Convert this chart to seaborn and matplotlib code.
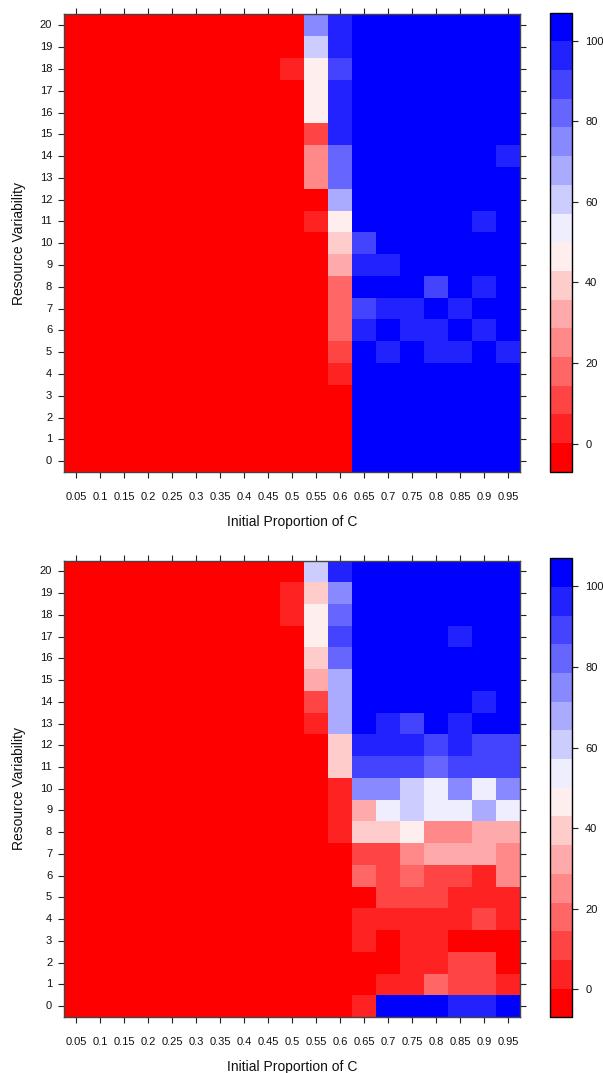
import numpy as np
import pandas as pd
import matplotlib
matplotlib.use("Agg")
import matplotlib.pyplot as plt
from matplotlib.colors import LinearSegmentedColormap, ListedColormap, BoundaryNorm
import seaborn as sns

# ---------------- data ----------------
x_labels = ["0.05", "0.1", "0.15", "0.2", "0.25", "0.3", "0.35", "0.4", "0.45", "0.5",
            "0.55", "0.6", "0.65", "0.7", "0.75", "0.8", "0.85", "0.9", "0.95"]
y_labels = [str(v) for v in range(20, -1, -1)]  # top row first

# Percentages, rows from Resource Variability 20 (top) down to 0
top_values = [
    [0, 0, 0, 0, 0, 0, 0, 0, 0, 0, 75, 96, 100, 100, 100, 100, 100, 100, 100],
    [0, 0, 0, 0, 0, 0, 0, 0, 0, 0, 61, 96, 100, 100, 100, 100, 100, 100, 100],
    [0, 0, 0, 0, 0, 0, 0, 0, 0, 4, 46, 89, 100, 100, 100, 100, 100, 100, 100],
    [0, 0, 0, 0, 0, 0, 0, 0, 0, 0, 46, 96, 100, 100, 100, 100, 100, 100, 100],
    [0, 0, 0, 0, 0, 0, 0, 0, 0, 0, 46, 96, 100, 100, 100, 100, 100, 100, 100],
    [0, 0, 0, 0, 0, 0, 0, 0, 0, 0, 11, 96, 100, 100, 100, 100, 100, 100, 100],
    [0, 0, 0, 0, 0, 0, 0, 0, 0, 0, 25, 82, 100, 100, 100, 100, 100, 100, 96],
    [0, 0, 0, 0, 0, 0, 0, 0, 0, 0, 25, 82, 100, 100, 100, 100, 100, 100, 100],
    [0, 0, 0, 0, 0, 0, 0, 0, 0, 0, 0, 68, 100, 100, 100, 100, 100, 100, 100],
    [0, 0, 0, 0, 0, 0, 0, 0, 0, 0, 4, 46, 100, 100, 100, 100, 100, 96, 100],
    [0, 0, 0, 0, 0, 0, 0, 0, 0, 0, 0, 39, 89, 100, 100, 100, 100, 100, 100],
    [0, 0, 0, 0, 0, 0, 0, 0, 0, 0, 0, 32, 96, 96, 100, 100, 100, 100, 100],
    [0, 0, 0, 0, 0, 0, 0, 0, 0, 0, 0, 18, 100, 100, 100, 89, 100, 96, 100],
    [0, 0, 0, 0, 0, 0, 0, 0, 0, 0, 0, 18, 89, 96, 96, 100, 96, 100, 100],
    [0, 0, 0, 0, 0, 0, 0, 0, 0, 0, 0, 18, 96, 100, 96, 96, 100, 96, 100],
    [0, 0, 0, 0, 0, 0, 0, 0, 0, 0, 0, 11, 100, 96, 100, 96, 96, 100, 96],
    [0, 0, 0, 0, 0, 0, 0, 0, 0, 0, 0, 4, 100, 100, 100, 100, 100, 100, 100],
    [0, 0, 0, 0, 0, 0, 0, 0, 0, 0, 0, 0, 100, 100, 100, 100, 100, 100, 100],
    [0, 0, 0, 0, 0, 0, 0, 0, 0, 0, 0, 0, 100, 100, 100, 100, 100, 100, 100],
    [0, 0, 0, 0, 0, 0, 0, 0, 0, 0, 0, 0, 100, 100, 100, 100, 100, 100, 100],
    [0, 0, 0, 0, 0, 0, 0, 0, 0, 0, 0, 0, 100, 100, 100, 100, 100, 100, 100],
]

bottom_values = [
    [0, 0, 0, 0, 0, 0, 0, 0, 0, 0, 61, 96, 100, 100, 100, 100, 100, 100, 100],
    [0, 0, 0, 0, 0, 0, 0, 0, 0, 4, 39, 75, 100, 100, 100, 100, 100, 100, 100],
    [0, 0, 0, 0, 0, 0, 0, 0, 0, 4, 46, 82, 100, 100, 100, 100, 100, 100, 100],
    [0, 0, 0, 0, 0, 0, 0, 0, 0, 0, 46, 89, 100, 100, 100, 100, 96, 100, 100],
    [0, 0, 0, 0, 0, 0, 0, 0, 0, 0, 39, 82, 100, 100, 100, 100, 100, 100, 100],
    [0, 0, 0, 0, 0, 0, 0, 0, 0, 0, 32, 68, 100, 100, 100, 100, 100, 100, 100],
    [0, 0, 0, 0, 0, 0, 0, 0, 0, 0, 11, 68, 100, 100, 100, 100, 100, 96, 100],
    [0, 0, 0, 0, 0, 0, 0, 0, 0, 0, 4, 68, 100, 96, 89, 100, 96, 100, 100],
    [0, 0, 0, 0, 0, 0, 0, 0, 0, 0, 0, 39, 96, 96, 96, 89, 96, 89, 89],
    [0, 0, 0, 0, 0, 0, 0, 0, 0, 0, 0, 39, 89, 89, 89, 82, 89, 89, 89],
    [0, 0, 0, 0, 0, 0, 0, 0, 0, 0, 0, 4, 75, 75, 61, 54, 75, 54, 75],
    [0, 0, 0, 0, 0, 0, 0, 0, 0, 0, 0, 4, 32, 54, 61, 54, 54, 68, 54],
    [0, 0, 0, 0, 0, 0, 0, 0, 0, 0, 0, 4, 39, 39, 46, 25, 25, 32, 32],
    [0, 0, 0, 0, 0, 0, 0, 0, 0, 0, 0, 0, 11, 11, 25, 32, 32, 32, 25],
    [0, 0, 0, 0, 0, 0, 0, 0, 0, 0, 0, 0, 18, 11, 18, 11, 11, 4, 25],
    [0, 0, 0, 0, 0, 0, 0, 0, 0, 0, 0, 0, 0, 11, 11, 11, 4, 4, 4],
    [0, 0, 0, 0, 0, 0, 0, 0, 0, 0, 0, 0, 4, 4, 4, 4, 4, 11, 4],
    [0, 0, 0, 0, 0, 0, 0, 0, 0, 0, 0, 0, 4, 0, 4, 4, 0, 0, 0],
    [0, 0, 0, 0, 0, 0, 0, 0, 0, 0, 0, 0, 0, 0, 4, 4, 11, 11, 0],
    [0, 0, 0, 0, 0, 0, 0, 0, 0, 0, 0, 0, 0, 4, 4, 18, 11, 11, 4],
    [0, 0, 0, 0, 0, 0, 0, 0, 0, 0, 0, 0, 4, 100, 100, 100, 96, 96, 100],
]

cbar_ticks = [0, 20, 40, 60, 80, 100]
x_title = "Initial Proportion of C"
y_title = "Resource Variability"

# ---------------- style ----------------
sns.set_theme(style="white")
plt.rcParams["font.family"] = ["Liberation Sans", "DejaVu Sans"]

# 16 discrete levels from -7 to 107 (red -> white -> blue)
n_levels = 16
bounds = np.linspace(-7, 107, n_levels + 1)
base = LinearSegmentedColormap.from_list("rwb", ["#ff0000", "#ffffff", "#0000ff"])
cmap = ListedColormap([base(i / (n_levels - 1)) for i in range(n_levels)])
norm = BoundaryNorm(bounds, cmap.N)

W, H = 603, 1073
fig = plt.figure(figsize=(W / 100, H / 100), dpi=100)


def fx(px):
    return px / W


def fy(py):
    return 1 - py / H


panels = [
    (top_values, (14.5, 472.0), (12.7, 471.7)),
    (bottom_values, (560.5, 1017.0), (558.3, 1017.3)),
]

for values, (ytop, ybot), (ctop, cbot) in panels:
    ax = fig.add_axes([fx(64), fy(ybot), fx(520) - fx(64), (ybot - ytop) / H])
    cax = fig.add_axes([fx(550), fy(cbot), fx(572) - fx(550), (cbot - ctop) / H])
    df = pd.DataFrame(values, index=y_labels, columns=x_labels)
    sns.heatmap(df, ax=ax, cmap=cmap, norm=norm, cbar_ax=cax,
                linewidths=0, square=False,
                cbar_kws={"ticks": cbar_ticks})
    for s in ax.spines.values():
        s.set_visible(True)
        s.set_color("#444444")
        s.set_linewidth(1.0)
    ax.tick_params(axis="both", which="both", direction="out", length=4.5,
                   width=0.8, color="#222222", labelsize=8, pad=4,
                   top=True, right=True, bottom=True, left=True,
                   labeltop=False, labelright=False)
    ax.set_yticklabels(y_labels, rotation=0)
    ax.set_xticklabels(x_labels, rotation=0)
    ax.tick_params(axis="x", pad=10)
    ax.set_xlabel(x_title, fontsize=10, labelpad=9, color="#111111")
    ax.set_ylabel(y_title, fontsize=10, labelpad=10, color="#111111")
    for t in ax.get_xticklabels() + ax.get_yticklabels():
        t.set_color("#111111")

    cb = ax.collections[0].colorbar
    cb.minorticks_off()
    cb.set_ticks(cbar_ticks)
    cb.set_ticklabels([str(t) for t in cbar_ticks])
    cb.outline.set_visible(True)
    cb.outline.set_edgecolor("#000000")
    cb.outline.set_linewidth(1.0)
    cax.tick_params(axis="y", which="major", direction="out", length=4.5, width=0.8,
                    color="#222222", labelsize=8, pad=5, right=True, left=False,
                    labelcolor="#111111")
    cax.tick_params(axis="y", which="minor", length=0, left=False, right=False)

fig.savefig("out.png", dpi=100)
